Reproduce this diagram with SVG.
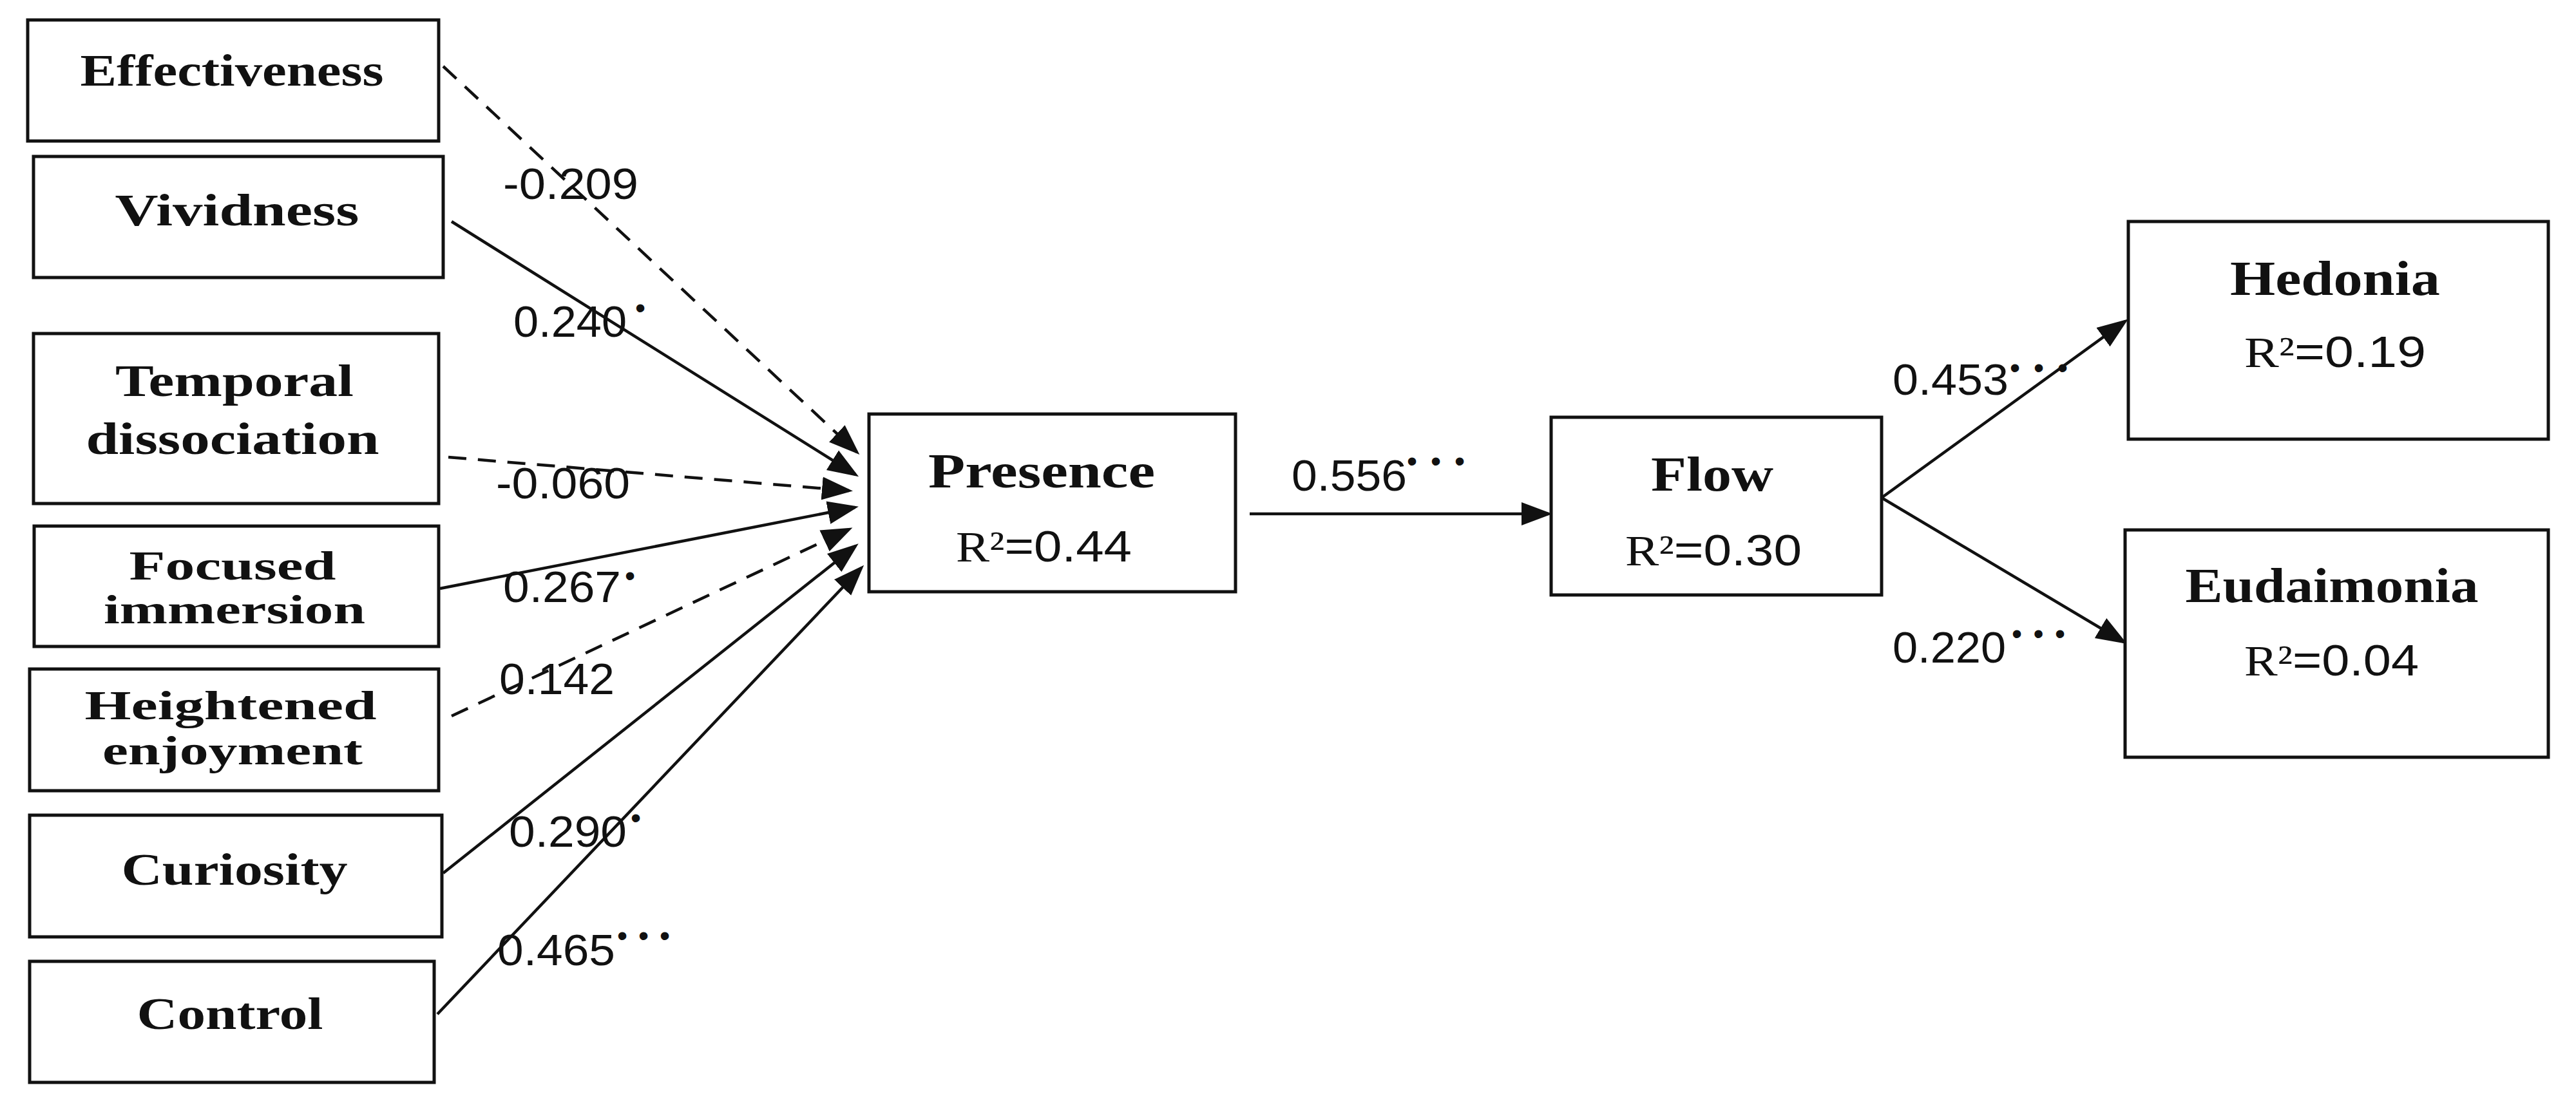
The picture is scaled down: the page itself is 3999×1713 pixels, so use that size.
<svg xmlns="http://www.w3.org/2000/svg" width="3999" height="1713" viewBox="0 0 3999 1713">
<defs>
<style>
.box{fill:#fff;stroke:#111;stroke-width:5}
.nl{font-family:"Liberation Serif","DejaVu Serif",serif;font-weight:bold;font-size:70px;fill:#111;text-anchor:middle}
.n2{font-size:64px}
.nr{font-family:"Liberation Serif","DejaVu Serif",serif;font-weight:bold;font-size:76px;fill:#111;text-anchor:middle}
.r2{font-family:"Liberation Sans","DejaVu Sans",sans-serif;font-size:68px;fill:#111}
.r2 .R{font-family:"Liberation Serif","DejaVu Serif",serif}
.cf{font-family:"Liberation Sans","DejaVu Sans",sans-serif;font-size:68px;fill:#111}
.st{font-family:"Liberation Sans","DejaVu Sans",sans-serif;font-size:46px;fill:#111}
.ln{fill:none;stroke:#111;stroke-width:4.5}
.ds{stroke-dasharray:28 18}
</style>
<marker id="ah" markerUnits="userSpaceOnUse" markerWidth="50" markerHeight="38" viewBox="0 0 50 38" refX="42" refY="19" orient="auto">
<path d="M0,1 L48,19 L0,37 Z" fill="#111"/>
</marker>
</defs>
<rect width="3999" height="1713" fill="#fff"/>

<g id="connectors">
<line class="ln ds" x1="688" y1="103" x2="1330" y2="702" marker-end="url(#ah)"/>
<line class="ln" x1="701" y1="344" x2="1328" y2="737" marker-end="url(#ah)"/>
<line class="ln ds" x1="696" y1="710" x2="1318" y2="762" marker-end="url(#ah)"/>
<line class="ln" x1="683" y1="914" x2="1327" y2="788" marker-end="url(#ah)"/>
<line class="ln ds" x1="701" y1="1112" x2="1318" y2="822" marker-end="url(#ah)"/>
<line class="ln" x1="688" y1="1356" x2="1328" y2="848" marker-end="url(#ah)"/>
<line class="ln" x1="679" y1="1575" x2="1337" y2="882" marker-end="url(#ah)"/>
<line class="ln" x1="1940" y1="798" x2="2404" y2="798" marker-end="url(#ah)"/>
<line class="ln" x1="2921" y1="773" x2="3299" y2="499" marker-end="url(#ah)"/>
<line class="ln" x1="2921" y1="773" x2="3297" y2="997" marker-end="url(#ah)"/>
</g>

<g id="labels">
<g><text class="cf" x="781" y="309" textLength="210" lengthAdjust="spacingAndGlyphs">-0.209</text></g>
<g><text class="cf" x="797" y="523" textLength="176" lengthAdjust="spacingAndGlyphs">0.240</text><text class="st" x="994" y="494" text-anchor="middle">•</text></g>
<g><text class="cf" x="770" y="774" textLength="208" lengthAdjust="spacingAndGlyphs">-0.060</text></g>
<g><text class="cf" x="781" y="935" textLength="183" lengthAdjust="spacingAndGlyphs">0.267</text><text class="st" x="978" y="910" text-anchor="middle">•</text></g>
<g><text class="cf" x="775" y="1078" textLength="179" lengthAdjust="spacingAndGlyphs">0.142</text></g>
<g><text class="cf" x="790" y="1315" textLength="183" lengthAdjust="spacingAndGlyphs">0.290</text><text class="st" x="987" y="1286" text-anchor="middle">•</text></g>
<g><text class="cf" x="772" y="1499" textLength="183" lengthAdjust="spacingAndGlyphs">0.465</text><text class="st" x="958" y="1469" textLength="82" lengthAdjust="spacing">•••</text></g>
<g><text class="cf" x="2005" y="762" textLength="179" lengthAdjust="spacingAndGlyphs">0.556</text><text class="st" x="2184" y="732" textLength="90" lengthAdjust="spacing">•••</text></g>
<g><text class="cf" x="2938" y="613" textLength="180" lengthAdjust="spacingAndGlyphs">0.453</text><text class="st" x="3120" y="587" textLength="90" lengthAdjust="spacing">•••</text></g>
<g><text class="cf" x="2938" y="1029" textLength="176" lengthAdjust="spacingAndGlyphs">0.220</text><text class="st" x="3123" y="1000" textLength="83" lengthAdjust="spacing">•••</text></g>
</g>

<g id="effectiveness"><rect class="box" x="43" y="31" width="638" height="188"/><text class="nl" x="360" y="133" textLength="471" lengthAdjust="spacingAndGlyphs">Effectiveness</text></g>
<g id="vividness"><rect class="box" x="52" y="243" width="636" height="188"/><text class="nl" x="368" y="350" textLength="379" lengthAdjust="spacingAndGlyphs">Vividness</text></g>
<g id="temporal"><rect class="box" x="52" y="518" width="629" height="264"/><text class="nl" x="364" y="615" textLength="370" lengthAdjust="spacingAndGlyphs">Temporal</text><text class="nl" x="361" y="705" textLength="455" lengthAdjust="spacingAndGlyphs">dissociation</text></g>
<g id="focused"><rect class="box" x="53" y="817" width="628" height="187"/><text class="nl n2" x="361" y="900" textLength="321" lengthAdjust="spacingAndGlyphs">Focused</text><text class="nl n2" x="364" y="968" textLength="406" lengthAdjust="spacingAndGlyphs">immersion</text></g>
<g id="heightened"><rect class="box" x="46" y="1039" width="635" height="189"/><text class="nl n2" x="358" y="1117" textLength="453" lengthAdjust="spacingAndGlyphs">Heightened</text><text class="nl n2" x="361" y="1187" textLength="404" lengthAdjust="spacingAndGlyphs">enjoyment</text></g>
<g id="curiosity"><rect class="box" x="46" y="1266" width="640" height="189"/><text class="nl" x="364" y="1374" textLength="351" lengthAdjust="spacingAndGlyphs">Curiosity</text></g>
<g id="control"><rect class="box" x="46" y="1493" width="628" height="188"/><text class="nl" x="357" y="1598" textLength="289" lengthAdjust="spacingAndGlyphs">Control</text></g>

<g id="presence"><rect class="box" x="1349" y="643" width="569" height="276"/><text class="nr" x="1617" y="757" textLength="352" lengthAdjust="spacingAndGlyphs">Presence</text><text class="r2" x="1484" y="872" textLength="273" lengthAdjust="spacingAndGlyphs"><tspan class="R">R²</tspan>=0.44</text></g>
<g id="flow"><rect class="box" x="2408" y="648" width="513" height="276"/><text class="nr" x="2658" y="762" textLength="190" lengthAdjust="spacingAndGlyphs">Flow</text><text class="r2" x="2523" y="878" textLength="274" lengthAdjust="spacingAndGlyphs"><tspan class="R">R²</tspan>=0.30</text></g>
<g id="hedonia"><rect class="box" x="3304" y="344" width="652" height="338"/><text class="nr" x="3625" y="458" textLength="326" lengthAdjust="spacingAndGlyphs">Hedonia</text><text class="r2" x="3484" y="570" textLength="282" lengthAdjust="spacingAndGlyphs"><tspan class="R">R²</tspan>=0.19</text></g>
<g id="eudaimonia"><rect class="box" x="3299" y="823" width="657" height="353"/><text class="nr" x="3620" y="935" textLength="455" lengthAdjust="spacingAndGlyphs">Eudaimonia</text><text class="r2" x="3484" y="1049" textLength="271" lengthAdjust="spacingAndGlyphs"><tspan class="R">R²</tspan>=0.04</text></g>
</svg>
